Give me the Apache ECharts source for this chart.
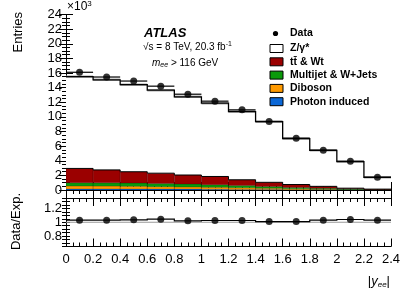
<!DOCTYPE html>
<html><head><meta charset="utf-8">
<script src="https://cdn.jsdelivr.net/npm/echarts@6/dist/echarts.min.js"></script>
<style>html,body{margin:0;padding:0;background:#fff}#c{width:411px;height:295px}</style>
</head><body><div id="c"></div>
<script>
// bin edges of |y_ee|
const binLo = [0,0.2,0.4,0.6,0.8,1.0,1.2,1.4,1.6,1.8,2.0,2.2];
const binHi = [0.2,0.4,0.6,0.8,1.0,1.2,1.4,1.6,1.8,2.0,2.2,2.4];
// entries (x10^3)
const dataVals   = [16.1,15.45,14.9,14.2,13.1,12.15,10.96,9.36,7.08,5.43,3.93,1.74];
const photonInd  = [0.15,0.15,0.14,0.13,0.12,0.10,0.08,0.06,0.04,0.03,0.02,0.01];
const diboson    = [0.40,0.38,0.36,0.33,0.30,0.26,0.22,0.17,0.12,0.08,0.05,0.02];
const multijet   = [0.45,0.45,0.45,0.42,0.40,0.36,0.30,0.24,0.18,0.12,0.07,0.03];
const ttbar      = [1.95,1.77,1.55,1.42,1.23,1.13,0.80,0.58,0.41,0.27,0.11,0.06];
const zgamma     = [12.55,12.32,11.90,11.35,10.69,10.02,9.33,8.31,6.28,4.93,3.63,1.62];
// Data / Expectation
const ratioVals  = [1.03,1.03,1.035,1.045,1.02,1.025,1.025,1.01,1.01,1.03,1.04,1.03];
const xTicks = [0,0.2,0.4,0.6,0.8,1,1.2,1.4,1.6,1.8,2,2.2,2.4];

const FONT = '"Liberation Sans", Arial, Helvetica, sans-serif';
const layers = [
  {name:'Photon induced', vals:photonInd, color:'#0b67d6'},
  {name:'Diboson', vals:diboson, color:'#ff9a00'},
  {name:'Multijet & W+Jets', vals:multijet, color:'#0b9a0b'},
  {name:'tt\u0304 & Wt', vals:ttbar, color:'#9b0000'},
  {name:'Z/\u03b3*', vals:zgamma, color:'#ffffff'}
];
const cum = binLo.map(()=>0);
const series = [];
function rectItem(api, fill, stroke){
  const a=api.coord([api.value(0),api.value(3)]), b=api.coord([api.value(1),api.value(2)]);
  return {type:'rect', shape:{x:a[0],y:a[1],width:b[0]-a[0],height:b[1]-a[1]},
    style:{fill:fill, stroke:stroke, lineWidth:0.5}};
}
layers.forEach(L=>{
  const d = binLo.map((lo,i)=>{const b=cum[i]; cum[i]+=L.vals[i]; return [lo,binHi[i],b,cum[i]];});
  series.push({type:'custom', xAxisIndex:0, yAxisIndex:0, clip:true, data:d,
    renderItem:(p,api)=>rectItem(api, L.color, L.color==='#ffffff'?null:'rgba(0,0,0,0.35)')});
});
const total = cum.slice();
const bkgTop = binLo.map((_,i)=>photonInd[i]+diboson[i]+multijet[i]+ttbar[i]);
// step outline drawn through axis coordinates
function stepSeries(xi, yi, vals, width, z){
  return {type:'custom', xAxisIndex:xi, yAxisIndex:yi, clip:true, z:z, data:[[0]],
    renderItem:(p,api)=>{
      const pts=[];
      binLo.forEach((lo,i)=>{pts.push(api.coord([lo,vals[i]])); pts.push(api.coord([binHi[i],vals[i]]));});
      return {type:'polyline', shape:{points:pts}, style:{stroke:'#000', lineWidth:width, fill:null}};
    }};
}
// uncertainty band
series.push({type:'custom', xAxisIndex:0, yAxisIndex:0, clip:true,
  data: binLo.map((lo,i)=>[lo,binHi[i],total[i]-0.17,total[i]+0.17]),
  renderItem:(p,api)=>rectItem(api,'#a8a8a8',null)});
series.push(stepSeries(0,0,total,1.3,5));
series.push(stepSeries(0,0,bkgTop,1,5));
// data error bars (bin width) + points
series.push({type:'custom', xAxisIndex:0, yAxisIndex:0, z:6,
  data: binLo.map((lo,i)=>[lo,binHi[i],dataVals[i]]),
  renderItem:(p,api)=>{
    const a=api.coord([api.value(0),api.value(2)]), b=api.coord([api.value(1),api.value(2)]);
    return {type:'line', shape:{x1:a[0],y1:a[1],x2:b[0],y2:b[1]}, style:{stroke:'#000',lineWidth:1.2}};
  }});
series.push({type:'scatter', xAxisIndex:0, yAxisIndex:0, z:7, symbol:'circle', symbolSize:7,
  itemStyle:{color:'#000'}, data: binLo.map((lo,i)=>[(lo+binHi[i])/2, dataVals[i]])});
// ratio panel
series.push({type:'custom', xAxisIndex:2, yAxisIndex:2, clip:true, data:[[0,2.4,0.992,1.008]],
  renderItem:(p,api)=>rectItem(api,'#9a9a9a',null)});
series.push(stepSeries(2,2,ratioVals,1.2,6));
series.push({type:'scatter', xAxisIndex:2, yAxisIndex:2, z:7, symbol:'circle', symbolSize:7,
  itemStyle:{color:'#000'}, data: binLo.map((lo,i)=>[(lo+binHi[i])/2, ratioVals[i]])});

const axLine = {show:true, lineStyle:{color:'#000', width:1}};
function xAx(grid, pos, labels){
  return {type:'value', gridIndex:grid, position:pos, min:0, max:2.4, interval:0.2,
    axisLine:axLine, splitLine:{show:false},
    axisTick:{show:true, inside:true, length:8, lineStyle:{color:'#000'}},
    minorTick:{show:true, splitNumber:4, length:4, lineStyle:{color:'#000'}},
    axisLabel:{show:labels, color:'#000', fontFamily:FONT, fontSize:13, margin:6,
      customValues: xTicks}};
}
function yMain(pos, labels){
  return {type:'value', gridIndex:0, position:pos, min:0, max:24, interval:2,
    axisLine:axLine, splitLine:{show:false},
    axisTick:{show:true, inside:true, length:7, lineStyle:{color:'#000'}},
    minorTick:{show:true, splitNumber:4, length:4, lineStyle:{color:'#000'}},
    axisLabel:{show:labels, color:'#000', fontFamily:FONT, fontSize:13, margin:4}};
}
function yRatio(pos, labels){
  return {type:'value', gridIndex:1, position:pos, min:0.65, max:1.35, interval:0.05,
    axisLine:axLine, splitLine:{show:false},
    axisTick:{show:true, inside:true, length:4, lineStyle:{color:'#000'}},
    axisLabel:{show:labels, color:'#000', fontFamily:FONT, fontSize:13, margin:4,
      showMinLabel:false, showMaxLabel:false,
      formatter:v=>{const r=Math.round(v*100)/100; if(Math.abs(r-0.8)<1e-6)return '0.8'; if(Math.abs(r-1)<1e-6)return '1'; if(Math.abs(r-1.2)<1e-6)return '1.2'; return '';}}};
}

const legendItems = [
  {name:'Z/\u03b3*', color:'#ffffff'},
  {name:'tt\u0304 & Wt', color:'#9b0000'},
  {name:'Multijet & W+Jets', color:'#0b9a0b'},
  {name:'Diboson', color:'#ff9a00'},
  {name:'Photon induced', color:'#0b67d6'}
];
const graphic = [];
graphic.push({type:'circle', shape:{cx:275.5, cy:33.5, r:2.6}, style:{fill:'#000'}});
graphic.push({type:'text', x:290, y:33.5, style:{text:'Data', font:'bold 10.5px '+FONT, fill:'#000', verticalAlign:'middle'}});
legendItems.forEach((it,k)=>{
  const y = 44.5 + k*13.3;
  graphic.push({type:'rect', shape:{x:270, y:y, width:13, height:8}, style:{fill:it.color, stroke:'#000', lineWidth:1}});
  graphic.push({type:'text', x:290, y:y+4, style:{text:it.name, font:'bold 10.5px '+FONT, fill:'#000', verticalAlign:'middle'}});
});
graphic.push({type:'text', x:144, y:33, style:{text:'ATLAS', font:'italic bold 13px '+FONT, fill:'#000', verticalAlign:'middle'}});
graphic.push({type:'text', x:143, y:47, style:{rich:{n:{font:'10px '+FONT, fill:'#000'}, s:{font:'7px '+FONT, fill:'#000', verticalAlign:'top', padding:[0,0,6,0]}},
  text:'{n|\u221as = 8 TeV, 20.3 fb}{s|-1}', verticalAlign:'middle'}});
graphic.push({type:'text', x:152, y:63, style:{rich:{m:{font:'italic 10px '+FONT, fill:'#000'}, e:{font:'italic 7px '+FONT, fill:'#000', padding:[5,0,0,0]}, n:{font:'10px '+FONT, fill:'#000'}},
  text:'{m|m}{e|ee}{n| > 116 GeV}', verticalAlign:'middle'}});
graphic.push({type:'text', x:67, y:7, style:{rich:{n:{font:'12px '+FONT, fill:'#000'}, s:{font:'8px '+FONT, fill:'#000', padding:[0,0,7,0]}},
  text:'{n|\u00d710}{s|3}', verticalAlign:'middle'}});
graphic.push({type:'text', x:18, y:12, rotation:Math.PI/2, style:{text:'Entries', font:'13px '+FONT, fill:'#000', align:'right', verticalAlign:'middle'}});
graphic.push({type:'text', x:16, y:193, rotation:Math.PI/2, style:{text:'Data/Exp.', font:'13px '+FONT, fill:'#000', align:'right', verticalAlign:'middle'}});
graphic.push({type:'text', x:390, y:281, style:{rich:{b:{font:'13px '+FONT, fill:'#000'}, y:{font:'italic 13px '+FONT, fill:'#000'}, e:{font:'italic 8px '+FONT, fill:'#000', padding:[7,0,0,0]}},
  text:'{b||}{y|y}{e|ee}{b||}', align:'right', verticalAlign:'middle'}});

const chart = echarts.init(document.getElementById('c'), null, {renderer:'canvas'});
chart.setOption({
  animation:false,
  backgroundColor:'#fff',
  grid:[{left:66, right:20, top:14.5, height:175.5}, {left:66, right:20, top:198, height:48.5}],
  xAxis:[xAx(0,'bottom',false), xAx(0,'top',false), xAx(1,'bottom',true), xAx(1,'top',false)],
  yAxis:[yMain('left',true), yMain('right',false), yRatio('left',true), yRatio('right',false)],
  series: series,
  graphic: graphic
});
</script></body></html>
